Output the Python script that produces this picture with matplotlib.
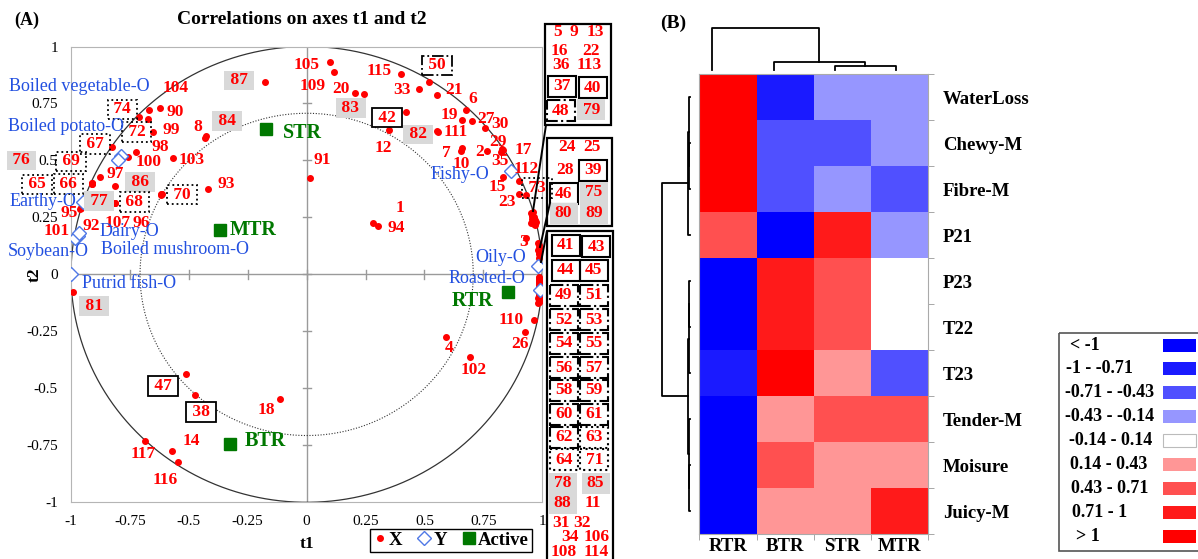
import numpy as np
import matplotlib
matplotlib.use('Agg')
import matplotlib.pyplot as plt
from matplotlib.colors import ListedColormap, BoundaryNorm
from matplotlib.patches import Rectangle
from matplotlib.lines import Line2D

plt.rcParams['font.family'] = ['Liberation Serif', 'DejaVu Serif']

# ---------------- panel A : correlation circle ----------------
# X variables drawn with their number next to the dot
x_names = ['87', '74', '72', '104', '90', '99', '8', '84', '98', '100', '103', '67', '97',
           '76', '69', '65', '66', '86', '77', '107', '68', '70', '96', '93', '95', '101', '92',
           '105', '109', '20', '83', '91', '115', '33', '50', '21', '42', '12', '82', '111',
           '7', '10', '19', '6', '27', '30', '29', '35', '17', '2', '112', '15', '23', '73',
           '3', '110', '26', '4', '102', '1', '94', '18', '117', '14', '116', '81', '47', '38']
x_t1 = [-0.177, -0.710, -0.675, -0.668, -0.622, -0.652, -0.430, -0.426, -0.724, -0.756, -0.569, -0.826, -0.876,
        -0.913, -0.910, -0.912, -0.909, -0.812, -0.814, -0.812, -0.616, -0.613, -0.618, -0.417, -0.958, -0.960, -0.956,
        0.099, 0.118, 0.207, 0.242, 0.016, 0.401, 0.476, 0.520, 0.555, 0.422, 0.351, 0.554, 0.556,
        0.660, 0.653, 0.660, 0.677, 0.702, 0.758, 0.830, 0.825, 0.835, 0.766, 0.903, 0.835, 0.903, 0.932,
        0.932, 0.963, 0.927, 0.592, 0.692, 0.280, 0.304, -0.113, -0.686, -0.572, -0.548, -0.991, -0.512, -0.473]
x_t2 = [0.843, 0.689, 0.681, 0.721, 0.732, 0.626, 0.600, 0.607, 0.536, 0.517, 0.512, 0.558, 0.429,
        0.399, 0.400, 0.395, 0.396, 0.388, 0.314, 0.312, 0.352, 0.354, 0.350, 0.374, 0.290, 0.288, 0.292,
        0.932, 0.889, 0.795, 0.792, 0.422, 0.878, 0.814, 0.843, 0.787, 0.714, 0.634, 0.628, 0.626,
        0.554, 0.542, 0.678, 0.721, 0.675, 0.644, 0.550, 0.539, 0.548, 0.540, 0.411, 0.428, 0.352, 0.349,
        0.160, -0.200, -0.251, -0.273, -0.361, 0.227, 0.214, -0.547, -0.729, -0.775, -0.821, -0.078, -0.436, -0.530]
# label offsets (pixels) and frame type of each number
lab_dx = [-26, -17, -11, 26, 15, 18, -8, 21, 24, 20, 19, -17, 15,
          -70, -21, -55, -24, 25, -16, 2, -27, 20, -20, 18, -12, -24, 10,
          -23, -22, -14, -13, 12, -22, -17, 8, 17, -19, -6, -19, 18,
          -16, 1, -13, 7, 14, 15, -4, -1, 20, -8, 7, -6, -12, 11,
          -3, -22, -5, 3, 4, 27, 18, -14, -2, 19, -12, 21, -23, 6]
lab_dy = [2, 8, -13, 22, -4, 2, 11, 15, 5, -5, -2, 3, 3,
          23, 22, 0, 0, 4, 2, -20, -8, -1, -28, 5, -5, -22, -18,
          -3, -14, 4, -14, 18, 3, -1, 17, 5, -6, -18, -3, 0,
          -5, -13, 5, 11, 2, 4, 7, -9, 0, -1, 12, -10, -8, 7,
          -4, 0, -12, -11, -13, 15, -2, -11, -13, 10, -18, -14, -12, -17]
lab_box = ['gray', 'dot', 'dot', '', '', '', '', 'gray', '', '', '', 'dot', '',
           'gray', 'dot', 'dot', 'dot', 'gray', 'gray', '', 'dot', 'dot', '', '', '', '', '',
           '', '', '', 'gray', '', '', '', 'dashdot', '', 'solid', '', 'gray', '',
           '', '', '', '', '', '', '', '', '', '', '', '', '', 'dot',
           '', '', '', '', '', '', '', '', '', '', '', 'gray', 'solid', 'solid']

# X variables crowded on the right edge (numbers listed in the side boxes)
side_names = ['5', '9', '13', '16', '22', '36', '113', '37', '40', '48', '79',
              '24', '25', '28', '39', '46', '75', '80', '89',
              '41', '43', '44', '45', '49', '51', '52', '53', '54', '55', '56', '57', '58', '59',
              '60', '61', '62', '63', '64', '71', '78', '85', '88', '11', '31', '32', '34', '106', '108', '114']
side_t1 = [0.950, 0.960, 0.955, 0.953, 0.974, 0.971, 0.963, 0.957, 0.968, 0.966, 0.958,
           0.982, 0.985, 0.987, 0.983, 0.988, 0.986, 0.989, 0.985,
           0.985, 0.987, 0.986, 0.988, 0.984, 0.986, 0.985, 0.987, 0.989, 0.986, 0.984, 0.988, 0.985, 0.987,
           0.986, 0.984, 0.988, 0.985, 0.987, 0.986, 0.984, 0.985, 0.987, 0.983, 0.986, 0.985, 0.984, 0.987, 0.985, 0.983]
side_t2 = [0.268, 0.275, 0.262, 0.227, 0.232, 0.217, 0.250, 0.242, 0.238, 0.222, 0.255,
           0.136, 0.128, 0.117, 0.109, 0.099, 0.091, 0.082, 0.072,
           -0.010, -0.015, -0.018, -0.023, -0.026, -0.031, -0.034, -0.039, -0.042, -0.047, -0.050, -0.055,
           -0.058, -0.063, -0.066, -0.071, -0.074, -0.079, -0.082, -0.087, -0.090, -0.095, -0.098, -0.103,
           -0.106, -0.111, -0.114, -0.119, -0.122, -0.127]

# Y variables (odours)
y_names = ['Boiled vegetable-O', 'Boiled potato-O', 'Earthy-O', 'Dairy-O', 'Boiled mushroom-O',
           'Soybean-O', 'Putrid fish-O', 'Fishy-O', 'Oily-O', 'Roasted-O']
y_t1 = [-0.788, -0.802, -0.951, -0.972, -0.982, -0.965, -1.0, 0.868, 0.981, 0.992]
y_t2 = [0.520, 0.502, 0.319, 0.169, 0.160, 0.182, 0.0, 0.455, 0.037, -0.068]
y_dx = [-112, -110, -73, 22, 26, -71, 11, -81, -63, -92]
y_dy = [69, 33, 0, 4, -12, -19, -9, -4, 8, 11]

# active observations
act_names = ['STR', 'MTR', 'BTR', 'RTR']
act_t1 = [-0.172, -0.368, -0.324, 0.854]
act_t2 = [0.638, 0.195, -0.745, -0.078]
act_dx = [17, 10, 14, -15]
act_dy = [-4, 0, 3, -9]
act_ha = ['left', 'left', 'left', 'right']

ticks = [-1, -0.75, -0.5, -0.25, 0, 0.25, 0.5, 0.75, 1]
tick_labels = ['-1', '-0.75', '-0.5', '-0.25', '0', '0.25', '0.5', '0.75', '1']

# ---------------- panel B : heatmap ----------------
hm_cols = ['RTR', 'BTR', 'STR', 'MTR']
hm_rows = ['WaterLoss', 'Chewy-M', 'Fibre-M', 'P21', 'P23', 'T22', 'T23', 'Tender-M', 'Moisure', 'Juicy-M']
hm_vals = [[1.30, -0.85, -0.30, -0.30],
           [1.30, -0.60, -0.60, -0.30],
           [1.30, -0.60, -0.30, -0.60],
           [0.60, -1.20, 0.85, -0.30],
           [-1.20, 0.85, 0.60, 0.00],
           [-1.20, 0.85, 0.60, 0.00],
           [-0.85, 1.20, 0.30, -0.60],
           [-1.20, 0.30, 0.60, 0.60],
           [-1.20, 0.60, 0.30, 0.30],
           [-1.20, 0.30, 0.30, 0.85]]
hm_bounds = [-10, -1, -0.71, -0.43, -0.14, 0.14, 0.43, 0.71, 1, 10]
hm_colors = ['#0000FF', '#1A1AFF', '#5050FF', '#9696FF', '#FFFFFF', '#FF9696', '#FF5050', '#FF1A1A', '#FF0000']
hm_legend = ['< -1', '-1 - -0.71', '-0.71 - -0.43', '-0.43 - -0.14', '-0.14 - 0.14',
             '0.14 - 0.43', '0.43 - 0.71', '0.71 - 1', '> 1']
# dendrograms: (node a, node b, height)
col_merges = [(2, 3, 0.1), (1, 4, 0.2), (0, 5, 1.0)]
row_merges = [(1, 2, 0.03), (0, 10, 0.05), (11, 3, 0.07),
              (4, 5, 0.03), (13, 6, 0.05), (8, 9, 0.03), (7, 15, 0.05), (14, 16, 0.07), (12, 17, 1.0)]

RED = '#FF0000'
BLUE = '#2350E0'
GREEN = '#007800'
W, H = 1198, 559
NUM_FS = 12.5

fig = plt.figure(figsize=(11.98, 5.59), dpi=100)

# ---- panel A
ax = fig.add_axes([71 / W, 1 - 502.3 / H, 471.3 / W, 455.8 / H])
ax.set_xlim(-1, 1)
ax.set_ylim(-1, 1)
for s in ax.spines.values():
    s.set_color('#B5B5B5')
ax.axhline(0, color='#9A9A9A', lw=1, zorder=0)
ax.axvline(0, color='#9A9A9A', lw=1, zorder=0)
for v in ticks[1:-1]:
    ax.plot([v, v], [-0.018, 0.018], color='#9A9A9A', lw=1, zorder=0)
    ax.plot([-0.017, 0.017], [v, v], color='#9A9A9A', lw=1, zorder=0)

ang = np.linspace(0, 2 * np.pi, 400)
ax.plot(np.cos(ang), np.sin(ang), color='#333333', lw=0.9, zorder=1)
ax.plot(0.707 * np.cos(ang), 0.707 * np.sin(ang), color='#333333', lw=0.8, ls=(0, (1, 1.5)), zorder=1)

ax.set_xticks(ticks)
ax.set_xticklabels(tick_labels)
ax.set_yticks(ticks)
ax.set_yticklabels(tick_labels)
ax.tick_params(length=0, pad=9.5, labelsize=11)
ax.set_xlabel('t1', fontsize=12.5, fontweight='bold')
ax.set_ylabel('t2', fontsize=12.5, fontweight='bold')
ax.xaxis.set_label_coords(0.5, -0.075)
ax.yaxis.set_label_coords(-0.061, 0.5)

# points
ax.plot(x_t1, x_t2, 'o', color=RED, ms=4, ls='', zorder=3)
ax.plot(side_t1, side_t2, 'o', color=RED, ms=4, ls='', zorder=3)
ax.plot(y_t1, y_t2, 'D', mfc='white', mec='#4F78E6', mew=1, ms=7, ls='', zorder=4)
ax.plot(act_t1, act_t2, 's', color=GREEN, ms=8, ls='', zorder=4)

box_kw = {
    'solid': dict(boxstyle='square,pad=0.1', fc='white', ec='black', lw=1.3),
    'dot': dict(boxstyle='square,pad=0.1', fc='none', ec='black', lw=1.3, ls=':'),
    'dashdot': dict(boxstyle='square,pad=0.1', fc='none', ec='black', lw=1.3, ls='-.'),
    'gray': dict(boxstyle='square,pad=0.1', fc='#D9D9D9', ec='none'),
}
for i, name in enumerate(x_names):
    b = lab_box[i]
    txt = ' ' + name + ' ' if b else name
    ax.annotate(txt, (x_t1[i], x_t2[i]), xytext=(lab_dx[i], lab_dy[i]), textcoords='offset pixels',
                ha='center', va='center', color=RED, fontsize=NUM_FS, fontweight='bold',
                bbox=box_kw.get(b), zorder=5)

for i, name in enumerate(y_names):
    ax.annotate(name, (y_t1[i], y_t2[i]), xytext=(y_dx[i], y_dy[i]), textcoords='offset pixels',
                ha='left', va='center', color=BLUE, fontsize=13, zorder=5)

for i, name in enumerate(act_names):
    ax.annotate(name, (act_t1[i], act_t2[i]), xytext=(act_dx[i], act_dy[i]), textcoords='offset pixels',
                ha=act_ha[i], va='center', color=GREEN, fontsize=14.5, fontweight='bold', zorder=5)

handles = [Line2D([], [], marker='o', color=RED, ms=4, ls=''),
           Line2D([], [], marker='D', mfc='white', mec='#4F78E6', ms=7, ls=''),
           Line2D([], [], marker='s', color=GREEN, ms=8, ls='')]
leg = fig.legend(handles, ['X', 'Y', 'Active'], loc='lower right', bbox_to_anchor=(541 / W, -0.004),
                 ncol=3, frameon=True, fancybox=False, edgecolor='black', framealpha=1,
                 handlelength=0.7, handletextpad=0.15, columnspacing=0.8, borderpad=0.15,
                 prop=dict(weight='bold', size=13.5))
leg.get_frame().set_linewidth(1)

fig.text(302 / W, 1 - 20 / H, 'Correlations on axes t1 and t2', ha='center', va='center',
         fontsize=14, fontweight='bold')

# ---- panel B heatmap
cmap = ListedColormap(hm_colors)
norm = BoundaryNorm(hm_bounds, cmap.N)
axh = fig.add_axes([699.3 / W, 1 - 534.3 / H, 229 / W, 460.3 / H])
axh.pcolormesh(np.array(hm_vals), cmap=cmap, norm=norm)
axh.set_xlim(0, len(hm_cols))
axh.set_ylim(len(hm_rows), 0)
axh.yaxis.tick_right()
axh.set_xticks(np.arange(len(hm_cols)) + 0.5)
axh.set_xticklabels(hm_cols, fontsize=13.5, fontweight='bold')
axh.set_yticks(np.arange(len(hm_rows)) + 0.5)
axh.set_yticklabels(hm_rows, fontsize=13.5, fontweight='bold')
axh.set_xticks(np.arange(len(hm_cols) + 1), minor=True)
axh.set_yticks(np.arange(len(hm_rows) + 1), minor=True)
axh.tick_params(which='major', length=0)
axh.tick_params(axis='x', which='major', pad=3)
axh.tick_params(axis='y', which='major', pad=10.5)
axh.tick_params(which='minor', length=4, color='#999999')
for s in axh.spines.values():
    s.set_color('#AAAAAA')

# ---- overlay in pixel coordinates for the figure decorations
ov = fig.add_axes([0, 0, 1, 1], zorder=10)
ov.set_xlim(0, W)
ov.set_ylim(H, 0)
ov.axis('off')

ov.text(27, 20, '(A)', ha='center', va='center', fontsize=13, fontweight='bold')
ov.text(673, 23, '(B)', ha='center', va='center', fontsize=14, fontweight='bold')


def dendro(leaf_pos, merges, base, scale, top):
    pos = list(leaf_pos)
    hgt = [0.0] * len(leaf_pos)
    for a, b, h in merges:
        la, lb, lh = base - hgt[a] * scale, base - hgt[b] * scale, base - h * scale
        if top:
            ov.plot([pos[a], pos[a], pos[b], pos[b]], [la, lh, lh, lb], color='black', lw=1.3)
        else:
            ov.plot([la, lh, lh, lb], [pos[a], pos[a], pos[b], pos[b]], color='black', lw=1.3)
        pos.append((pos[a] + pos[b]) / 2)
        hgt.append(h)


dendro([712.3 + 61.2 * i for i in range(len(hm_cols))], col_merges, 70, 42, True)
dendro([97 + 46 * i for i in range(len(hm_rows))], row_merges, 690, 28, False)

# heatmap legend
ov.add_patch(Rectangle((1059, 333), 150, 218, fill=False, ec='#555555', lw=1.2))
leg_x = [1070, 1066, 1065, 1065, 1069, 1070, 1071, 1072, 1076]
for i, lab in enumerate(hm_legend):
    yc = 345 + 23.9 * i
    ov.text(leg_x[i], yc, lab, ha='left', va='center', fontsize=13, fontweight='bold')
    ov.add_patch(Rectangle((1163, yc - 6.5), 33, 13, fc=hm_colors[i],
                           ec='#BBBBBB' if hm_colors[i] == '#FFFFFF' else 'none', lw=0.8))

# side boxes listing crowded points
ov.add_patch(Rectangle((545, 24), 66, 101, fill=False, ec='black', lw=1.6))
ov.add_patch(Rectangle((547, 137.7), 65, 88.3, fill=False, ec='black', lw=1.6))
ov.add_patch(Rectangle((547, 230.7), 66, 340, fill=False, ec='black', lw=1.6))
ov.plot([546, 533], [125, 211], color='black', lw=1.4)
ov.plot([550, 540], [203, 247], color='black', lw=1.4)
ov.plot([547, 541], [231, 262], color='black', lw=1.4)

side_cells = [('5', 557.5, 32.5, ''), ('9', 574, 32.5, ''), ('13', 595.7, 32.5, ''),
              ('16', 559.5, 50.8, ''), ('22', 591, 50.8, ''), ('36', 561, 65, ''), ('113', 589.7, 65, ''),
              ('37', 561.7, 86, 'solid'), ('40', 592.8, 87.8, 'solid'),
              ('48', 560.5, 110.8, 'dashdot'), ('79', 591.3, 109.7, 'gray'),
              ('24', 566.7, 146.7, ''), ('25', 591.7, 146.7, ''), ('28', 564.7, 170, ''),
              ('39', 592.8, 170, 'solid'), ('46', 563.8, 193.7, 'solid'), ('75', 593.7, 192.5, 'gray'),
              ('80', 563.5, 213.3, 'gray'), ('89', 593.7, 213.3, 'gray'),
              ('41', 565.8, 245, 'solid'), ('43', 596.2, 246.8, 'solid'),
              ('44', 565.5, 270.3, 'solid'), ('45', 593.7, 270, 'solid'),
              ('49', 563.7, 295, 'dashdot'), ('51', 594.3, 295, 'dashdot'),
              ('52', 563.7, 319.5, 'dashdot'), ('53', 594.3, 319.5, 'dashdot'),
              ('54', 563.7, 343.3, 'dashdot'), ('55', 594.3, 343.3, 'dashdot'),
              ('56', 563.7, 367.5, 'dashdot'), ('57', 594.3, 367.5, 'dashdot'),
              ('58', 563.7, 390, 'dashdot'), ('59', 594.3, 390, 'dashdot'),
              ('60', 563.7, 414.2, 'dashdot'), ('61', 594.3, 414.2, 'dashdot'),
              ('62', 563.7, 437, 'dashdot'), ('63', 594.3, 437, 'dot'),
              ('64', 563.7, 459.5, 'dot'), ('71', 594.3, 459.5, 'dot'),
              ('78', 562.5, 483.3, 'gray'), ('85', 595.5, 483.3, 'gray'),
              ('88', 562.5, 503.3, 'gray'), ('11', 593.3, 503.3, ''),
              ('31', 561, 523.3, ''), ('32', 582, 523.3, ''), ('34', 570, 536.7, ''),
              ('106', 596.7, 536.7, ''), ('108', 564.2, 551.7, ''), ('114', 596.7, 551.7, '')]
cell_ls = {'solid': '-', 'dashdot': '-.', 'dot': ':'}
for txt, cx, cy, st in side_cells:
    if st == 'gray':
        ov.add_patch(Rectangle((cx - 14, cy - 10.5), 28, 21, fc='#D9D9D9', ec='none'))
    elif st:
        ov.add_patch(Rectangle((cx - 14, cy - 10.5), 28, 21, fill=False, ec='black',
                               lw=1.5, ls=cell_ls[st]))
    ov.text(cx, cy, txt, ha='center', va='center', color=RED, fontsize=NUM_FS, fontweight='bold')

fig.savefig('out.png', dpi=100)
